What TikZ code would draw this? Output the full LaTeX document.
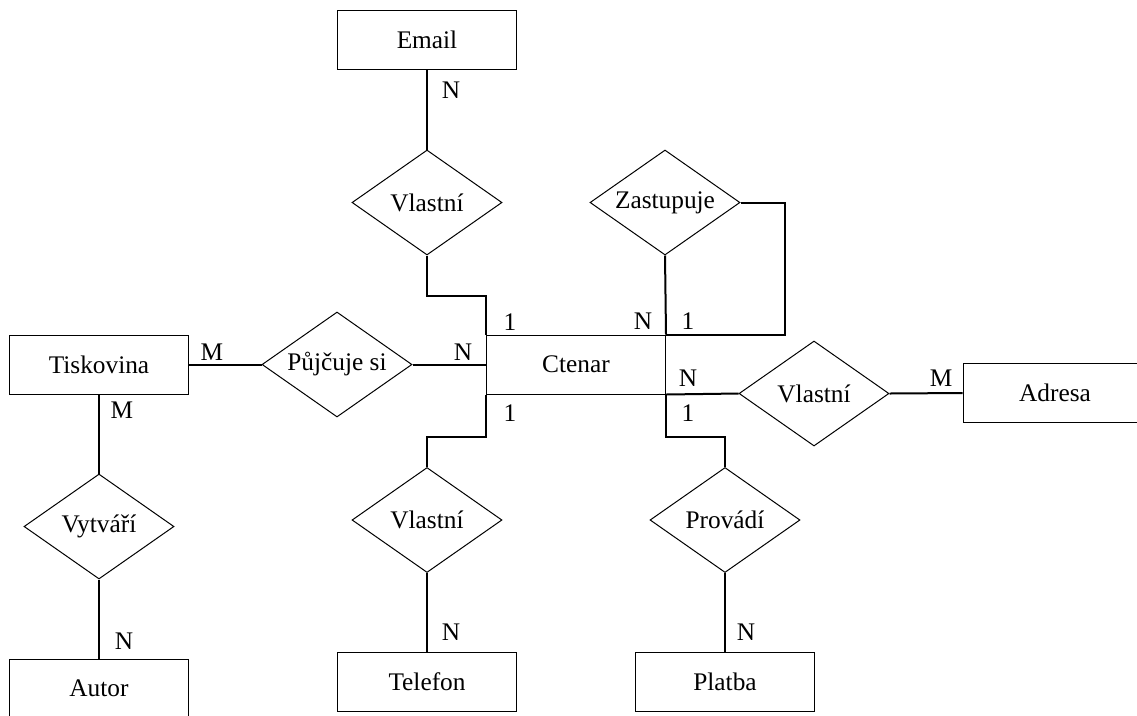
\documentclass[tikz,border=0pt]{standalone}
\usepackage{fontspec}
\setmainfont{Liberation Serif}
\usetikzlibrary{shapes.geometric}

\begin{document}
\begin{tikzpicture}[x=0.75pt,y=0.75pt,yscale=-1,xscale=1,
  every node/.style={font=\fontsize{19}{22}\selectfont},
  entity/.style={draw, line width=0.75, minimum width=134.25pt, minimum height=44.25pt, inner sep=0},
  relation/.style={draw, diamond, aspect=1.43, line width=0.75, minimum width=112.5pt, minimum height=78.75pt, inner sep=0},
  link/.style={line width=1.5},
  card/.style={inner sep=0}
]
  \useasboundingbox (0,0) rectangle (1137,715);
  \node [entity] (email) at (427,39.5) {Email};
  \node [relation] (ownmail) at (427,202.5) {Vlastní};
  \node [entity] (ctenar) at (576,364.5) {Ctenar};
  \node [relation] (zastupuje) at (665,202.5) {Zastupuje};
  \node [entity] (tiskovina) at (99,364.5) {Tiskovina};
  \node [relation] (pujcuje) at (337,364.5) {Půjčuje si};
  \node [relation] (vytvari) at (99,526.5) {Vytváří};
  \node [entity] (autor) at (99,688.5) {Autor};
  \node [relation] (owntel) at (427,520) {Vlastní};
  \node [entity] (telefon) at (427,681.5) {Telefon};
  \node [relation] (provadi) at (725,520) {Provádí};
  \node [entity] (platba) at (725,681.5) {Platba};
  \node [relation] (ownadr) at (814,393.5) {Vlastní};
  \node [entity, minimum width=138pt] (adresa) at (1055,393) {Adresa};

  \draw [link] (email.south) -- (ownmail.north);
  \draw [link] (ownmail.south) -- ++(0,40) -| (ctenar.north west);
  \draw [link] (tiskovina.east) -- (pujcuje.west);
  \draw [link] (pujcuje.east) -- (ctenar.west);
  \draw [link] (tiskovina.south) -- (vytvari.north);
  \draw [link] (vytvari.south) -- (autor.north);
  \draw [link] (ctenar.south west) -- ++(0,42) -| (owntel.north);
  \draw [link] (owntel.south) -- (telefon.north);
  \draw [link] (zastupuje.south) -- (ctenar.north east);
  \draw [link] (zastupuje.east) -- ++(44,0) |- (ctenar.north east);
  \draw [link] (ctenar.south east) -- (ownadr.west);
  \draw [link] (ownadr.east) -- (adresa.west);
  \draw [link] (ctenar.south east) -- ++(0,42) -| (provadi.north);
  \draw [link] (provadi.south) -- (platba.north);

  \node [card] (c1) at (451,90) {N};
  \node [card] (c2) at (212,352) {M};
  \node [card] (c3) at (122,410) {M};
  \node [card] (c4) at (463,352) {N};
  \node [card] (c5) at (510,322) {1};
  \node [card] (c6) at (643,321) {N};
  \node [card] (c7) at (688,321) {1};
  \node [card] (c8) at (688,378) {N};
  \node [card] (c9) at (941,378) {M};
  \node [card] (c10) at (510,413) {1};
  \node [card] (c11) at (688,413) {1};
  \node [card] (c12) at (124,641) {N};
  \node [card] (c13) at (451,632) {N};
  \node [card] (c14) at (746,632) {N};
\end{tikzpicture}
\end{document}
